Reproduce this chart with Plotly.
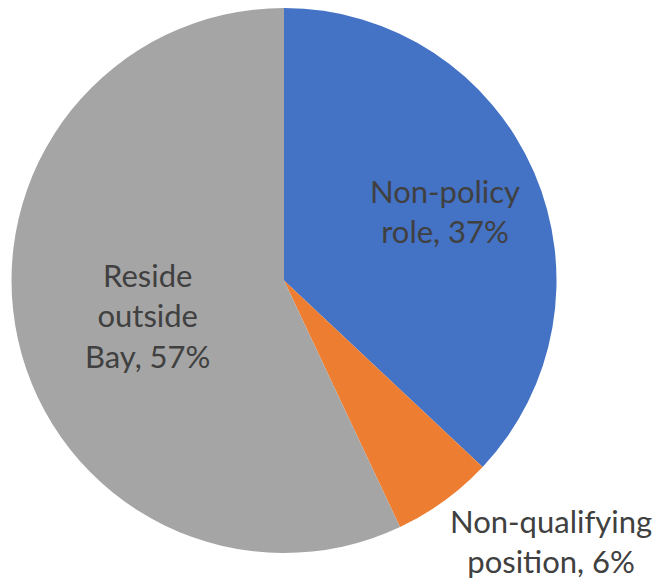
import plotly.graph_objects as go

# slice data (Excel-style pie, clockwise from 12 o'clock)
labels = ["Non-policy role", "Non-qualifying position", "Reside outside Bay"]
values = [37, 6, 57]
colors = ["#4472C4", "#ED7D31", "#A5A5A5"]
label_text = ["Non-policy<br>role, 37%", "Non-qualifying<br>position, 6%", "Reside<br>outside<br>Bay, 57%"]

W, H = 662, 581
OFF = 8  # default body margin of the html page

def px_x(px):
    return (px - OFF) / W

def px_y(py):
    return min(1, 1 - (py - OFF) / H)

fig = go.Figure(go.Pie(
    labels=labels, values=values, sort=False, direction="clockwise", rotation=0,
    marker=dict(colors=colors, line=dict(width=0)),
    textinfo="none", hoverinfo="label+percent", showlegend=False,
    domain=dict(x=[px_x(10), px_x(558)], y=[px_y(553), px_y(6)]),
))

# label positions in pixels (centre of each text block)
label_pos = [(445, 211), (551, 541), (147, 315)]
for txt, (px, py) in zip(label_text, label_pos):
    fig.add_annotation(x=px_x(px), y=px_y(py), xref="paper", yref="paper",
                       xanchor="center", yanchor="middle",
                       text=txt, showarrow=False, align="center",
                       font=dict(family="Lato, Open Sans, sans-serif", size=31, color="#404040"))

fig.update_layout(width=W, height=H, margin=dict(l=0, r=0, t=0, b=0),
                  paper_bgcolor="white", plot_bgcolor="white")

fig.write_html("out.html")
